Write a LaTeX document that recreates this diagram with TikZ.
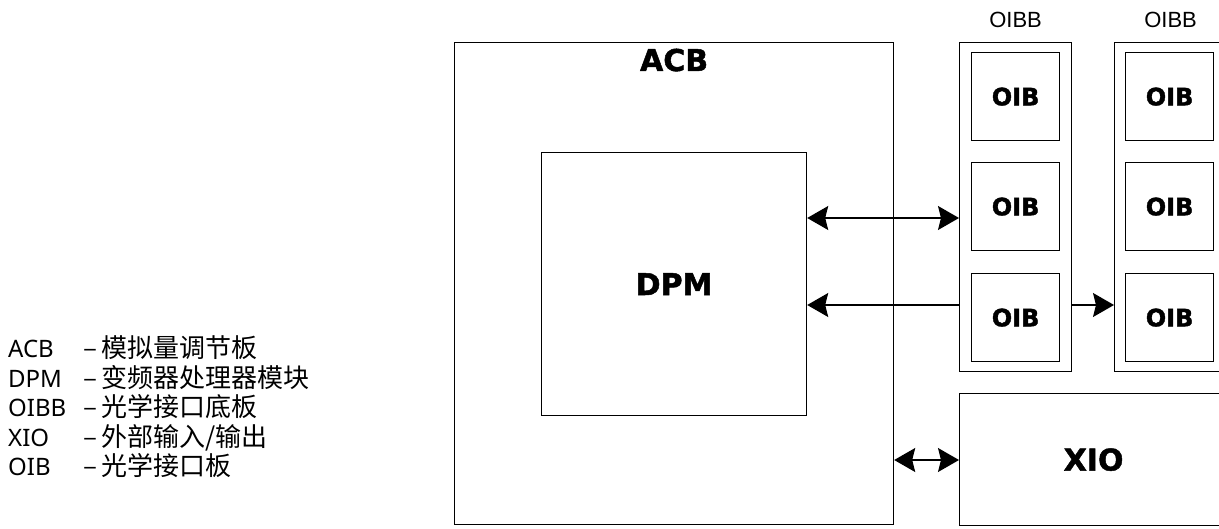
\documentclass[tikz,border=0pt]{standalone}
\usepackage{fontspec}
\setmainfont{Liberation Sans}
\newfontfamily\cjkfont{Noto Sans CJK SC}
\newfontfamily\latinfont{Noto Sans}
\newfontfamily\heavyfont{DejaVu Sans}[BoldFeatures={FakeBold=1.6}]
\usetikzlibrary{arrows.meta,positioning}

\begin{document}
\begin{tikzpicture}[
  x=1pt,y=-1pt,
  board/.style={draw,line width=1.2pt,anchor=north west,inner sep=0pt},
  title/.style={font=\heavyfont\bfseries\fontsize{30}{30}\selectfont,inner sep=0pt},
  oibtext/.style={font=\heavyfont\bfseries\fontsize{24}{24}\selectfont},
  plain/.style={font=\fontsize{22}{22}\selectfont,inner sep=0pt},
  arr/.style={line width=1.2pt,-{Stealth[length=21pt,width=24pt,inset=3pt]}},
  biarr/.style={line width=1.2pt,{Stealth[length=21pt,width=24pt,inset=3pt]}-{Stealth[length=21pt,width=24pt,inset=3pt]}},
  legend/.style={font=\cjkfont\fontsize{26}{26}\selectfont,anchor=base west,inner sep=0pt}
]
  \useasboundingbox (0,0) rectangle (1219,528);

  % boards
  \node[board,minimum width=439pt,minimum height=482pt] (acb) at (454,42) {};
  \node[title,below=6.5pt of acb.north] (acbtxt) {ACB};
  \node[board,title,minimum width=265pt,minimum height=263pt] (dpm) at (541,152) {DPM};
  \node[board,minimum width=112pt,minimum height=329pt] (oibb1) at (959,42) {};
  \node[board,minimum width=112pt,minimum height=329pt] (oibb2) at (1114,42) {};
  \node[plain,above=14pt of oibb1] (oibbtxt1) {OIBB};
  \node[plain,above=14pt of oibb2] (oibbtxt2) {OIBB};
  \foreach \col/\x in {1/971,2/1125}
    \foreach \row/\y in {1/52,2/162,3/273}
      \node[board,oibtext,minimum size=88pt] (oib\col\row) at (\x,\y) {OIB};
  \node[board,title,minimum width=268pt,minimum height=132pt] (xio) at (959,393) {XIO};

  % links
  \coordinate (upper) at (0,218);
  \coordinate (lower) at (0,305);
  \coordinate (xioline) at (0,460);
  \draw[biarr] (dpm.east |- upper) -- (oibb1.west |- upper);
  \draw[arr] (oibb1.west |- lower) -- (dpm.east |- lower);
  \draw[arr] (oibb1.east |- lower) -- (oibb2.west |- lower);
  \draw[biarr] (acb.east |- xioline) -- (xio.west |- xioline);

  % legend
  \foreach \abbr/\desc [count=\i] in {ACB/模拟量调节板,DPM/变频器处理器模块,OIBB/光学接口底板,XIO/{外部输入/输出},OIB/光学接口板}
    \node[legend] (key\i) at (8,328+29.5*\i) {\makebox[75pt][l]{\latinfont\fontsize{24}{24}\selectfont\abbr}–\hspace{4pt}\desc};
\end{tikzpicture}
\end{document}
